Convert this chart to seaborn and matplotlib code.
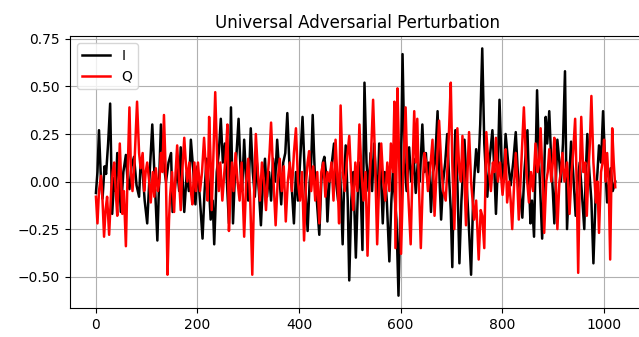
import numpy as np
import pandas as pd
import matplotlib
matplotlib.use("Agg")
import matplotlib.pyplot as plt
import seaborn as sns

# In-phase component: (sample index, amplitude)
i_idx = [0, 3, 6, 10, 13, 17, 20, 24, 28, 32, 36, 39, 42, 46, 49, 54, 59, 62, 66, 70,
         75, 80, 85, 88, 92, 96, 101, 106, 111, 116, 121, 125, 128, 133, 138, 143, 148, 151, 156, 160,
         164, 167, 171, 174, 179, 183, 187, 192, 196, 200, 205, 210, 214, 218, 222, 226, 230, 233, 238, 242,
         246, 250, 254, 258, 262, 266, 270, 274, 277, 281, 285, 288, 292, 296, 300, 305, 309, 313, 317, 321,
         325, 329, 333, 337, 341, 345, 349, 353, 357, 361, 365, 369, 373, 377, 381, 385, 390, 394, 398, 402,
         407, 412, 417, 421, 424, 427, 431, 435, 440, 444, 447, 450, 453, 456, 460, 464, 469, 473, 477, 481,
         486, 489, 492, 496, 499, 503, 507, 512, 516, 520, 525, 529, 533, 537, 541, 544, 548, 552, 555, 558,
         562, 565, 569, 573, 578, 582, 585, 588, 592, 596, 600, 604, 608, 612, 617, 621, 626, 630, 634, 638,
         643, 647, 650, 653, 656, 660, 664, 668, 673, 677, 680, 684, 688, 692, 696, 699, 702, 705, 708, 712,
         716, 720, 723, 726, 730, 734, 739, 743, 746, 749, 753, 757, 761, 765, 768, 771, 775, 781, 785, 788,
         792, 795, 799, 803, 807, 812, 817, 822, 827, 831, 835, 840, 844, 850, 853, 856, 859, 863, 866, 869,
         873, 876, 879, 883, 886, 889, 893, 897, 900, 903, 906, 909, 913, 916, 920, 924, 928, 932, 936, 940,
         945, 949, 953, 957, 962, 965, 968, 972, 976, 980, 984, 988, 991, 995, 999, 1003, 1007, 1011, 1014, 1018,
         1023]
i_val = [-0.06, 0.05, 0.27, 0.00, -0.09, 0.08, 0.04, 0.20, 0.41, -0.17, 0.02, -0.05, 0.15, 0.00, -0.16, 0.05, 0.14, 0.02, -0.04, 0.08,
         0.13, -0.02, -0.08, 0.10, 0.05, -0.10, -0.22, 0.05, 0.30, 0.00, -0.31, 0.05, 0.30, 0.10, 0.00, 0.10, 0.15, -0.16, -0.02, 0.07,
         -0.05, 0.18, 0.00, -0.16, 0.05, -0.05, 0.22, 0.05, -0.12, 0.08, -0.10, -0.30, -0.05, 0.12, 0.00, -0.20, -0.10, -0.33, 0.05, 0.15,
         0.33, 0.10, 0.20, 0.00, -0.22, 0.39, -0.22, 0.05, 0.15, 0.33, 0.05, -0.05, 0.22, 0.00, -0.10, 0.28, 0.05, -0.08, 0.10, -0.05,
         -0.23, 0.00, 0.12, -0.08, 0.05, -0.10, 0.12, 0.00, 0.22, 0.05, -0.12, 0.10, 0.15, 0.36, 0.10, 0.00, -0.22, 0.05, -0.10, 0.10,
         0.34, 0.00, -0.26, 0.00, 0.10, 0.35, 0.05, -0.10, -0.28, 0.00, 0.10, 0.13, 0.05, -0.21, 0.00, 0.08, 0.20, 0.00, -0.10, 0.05,
         -0.33, 0.00, 0.19, -0.10, -0.52, -0.10, 0.05, -0.40, -0.05, 0.10, -0.36, 0.52, 0.10, -0.05, 0.15, -0.05, 0.20, 0.00, -0.10, 0.20,
         0.00, -0.22, 0.05, -0.10, -0.42, -0.10, 0.05, -0.06, -0.20, -0.60, -0.10, 0.67, 0.10, -0.05, 0.18, 0.00, 0.12, -0.06, 0.10, 0.00,
         0.30, 0.05, 0.15, 0.00, 0.10, -0.16, 0.05, 0.10, 0.37, 0.00, -0.20, 0.00, 0.10, 0.25, 0.00, -0.15, -0.45, 0.00, 0.27, 0.00,
         -0.43, -0.10, 0.05, 0.22, 0.00, -0.20, -0.49, -0.10, 0.05, 0.17, 0.05, 0.30, 0.70, 0.20, 0.05, -0.08, 0.10, 0.27, 0.05, -0.17,
         0.10, 0.43, 0.10, 0.00, 0.25, 0.10, -0.02, 0.10, 0.26, 0.05, -0.05, -0.19, 0.05, 0.27, 0.00, -0.22, -0.10, -0.29, 0.10, 0.48,
         0.10, -0.10, -0.30, 0.05, 0.34, 0.20, 0.37, 0.10, -0.05, -0.22, 0.00, 0.22, 0.10, 0.00, 0.20, 0.58, -0.25, 0.00, 0.21, 0.05,
         -0.18, 0.00, 0.10, -0.05, -0.25, 0.05, 0.25, 0.05, -0.10, -0.43, -0.10, 0.05, 0.19, 0.10, 0.37, 0.10, -0.11, 0.00, 0.07, -0.05,
         0.00]

# Quadrature component: (sample index, amplitude)
q_idx = [0, 3, 6, 10, 13, 16, 19, 22, 26, 30, 33, 36, 39, 42, 47, 52, 55, 59, 62, 66,
         69, 72, 76, 81, 85, 88, 92, 95, 98, 101, 105, 108, 112, 115, 118, 122, 125, 128, 131, 134,
         138, 141, 144, 146, 150, 154, 157, 160, 164, 167, 170, 174, 177, 180, 184, 187, 190, 194, 197, 201,
         205, 209, 213, 217, 220, 223, 226, 228, 231, 235, 239, 242, 245, 249, 253, 256, 259, 262, 265, 268,
         271, 275, 279, 283, 287, 292, 296, 300, 304, 308, 312, 315, 319, 323, 327, 331, 335, 339, 342, 345,
         349, 354, 358, 362, 366, 370, 374, 378, 382, 386, 390, 394, 398, 402, 406, 410, 414, 417, 420, 424,
         428, 432, 436, 440, 444, 448, 452, 456, 460, 464, 468, 472, 476, 479, 482, 486, 490, 494, 499, 503,
         507, 511, 515, 519, 523, 527, 531, 535, 539, 542, 546, 550, 554, 558, 562, 566, 570, 574, 578, 581,
         585, 588, 590, 594, 597, 601, 606, 610, 614, 620, 624, 627, 630, 633, 636, 640, 644, 647, 650, 654,
         658, 663, 667, 671, 676, 680, 684, 689, 693, 696, 699, 702, 706, 709, 712, 716, 719, 722, 726, 729,
         732, 735, 739, 742, 745, 749, 754, 758, 761, 765, 769, 773, 778, 782, 785, 788, 792, 796, 801, 805,
         807, 810, 814, 817, 820, 824, 827, 830, 833, 838, 843, 848, 853, 857, 861, 866, 870, 873, 876, 880,
         883, 887, 890, 893, 897, 900, 903, 906, 909, 913, 916, 919, 923, 928, 933, 937, 940, 944, 947, 950,
         953, 956, 960, 964, 967, 970, 973, 976, 980, 985, 988, 991, 995, 998, 1001, 1004, 1007, 1010, 1013, 1017,
         1020, 1023]
q_val = [-0.08, -0.22, -0.05, 0.03, -0.10, -0.29, -0.15, -0.08, -0.28, -0.05, 0.05, 0.10, -0.05, -0.18, 0.20, -0.17, -0.05, -0.34, 0.00, 0.39,
         0.05, -0.05, 0.10, 0.42, 0.15, 0.07, 0.15, -0.05, 0.05, 0.10, 0.00, -0.11, 0.05, -0.08, 0.07, -0.05, 0.00, 0.15, 0.05, 0.35,
         0.00, -0.49, -0.20, -0.08, 0.05, -0.16, 0.05, 0.19, 0.00, -0.15, 0.05, 0.23, 0.10, 0.00, 0.10, -0.05, -0.12, 0.10, -0.05, 0.10,
         -0.05, 0.05, 0.23, 0.05, -0.10, 0.34, 0.10, -0.15, 0.10, 0.47, 0.10, -0.05, 0.10, -0.10, 0.05, 0.15, 0.30, -0.26, -0.05, 0.10,
         -0.05, 0.15, 0.00, -0.10, 0.10, -0.29, 0.00, 0.12, -0.10, -0.49, 0.00, 0.25, 0.05, -0.10, 0.10, 0.00, -0.15, 0.05, 0.15, 0.31,
         0.05, -0.23, 0.00, 0.12, -0.05, 0.08, -0.21, 0.00, 0.10, -0.05, 0.15, 0.28, 0.00, -0.10, 0.05, -0.31, 0.00, 0.10, 0.16, -0.05,
         0.08, -0.10, 0.05, -0.22, 0.05, 0.10, -0.08, 0.05, 0.00, 0.10, -0.10, 0.22, 0.00, -0.22, 0.40, 0.05, -0.05, 0.10, 0.24, 0.00,
         -0.15, 0.10, -0.05, 0.30, 0.05, -0.10, 0.05, -0.39, 0.00, 0.15, 0.43, 0.10, -0.33, 0.00, 0.20, 0.00, -0.10, 0.10, -0.05, 0.20,
         0.05, 0.42, -0.35, 0.49, 0.15, -0.38, 0.10, 0.39, 0.00, -0.33, 0.10, 0.37, 0.10, 0.33, 0.00, -0.35, 0.00, 0.15, 0.11, -0.05,
         0.05, 0.22, -0.18, 0.05, 0.32, 0.10, -0.05, -0.10, 0.10, 0.30, 0.52, 0.10, -0.25, 0.05, 0.28, 0.05, 0.00, 0.24, 0.00, -0.23,
         0.05, 0.26, 0.00, -0.10, -0.20, -0.10, -0.41, -0.15, -0.18, -0.35, 0.26, 0.10, -0.05, 0.10, 0.05, 0.23, 0.00, 0.10, -0.07, 0.05,
         0.17, -0.11, 0.00, -0.10, -0.25, 0.00, 0.15, 0.00, -0.20, 0.10, 0.39, 0.05, -0.11, 0.05, -0.05, 0.20, 0.05, 0.10, 0.28, 0.00,
         -0.27, 0.00, 0.05, 0.17, 0.00, 0.10, 0.23, 0.00, -0.25, 0.00, 0.05, 0.15, 0.00, 0.10, -0.17, 0.05, 0.15, 0.33, 0.00, -0.48,
         0.00, 0.34, 0.05, 0.10, -0.18, 0.05, 0.20, 0.45, 0.10, -0.11, 0.00, -0.27, 0.05, 0.10, 0.22, 0.00, 0.15, 0.00, -0.41, 0.28,
         0.10, -0.03]

series_names = ["I", "Q"]
series_colors = ["black", "red"]

frames = [
    pd.DataFrame({"sample": i_idx, "value": i_val, "component": series_names[0]}),
    pd.DataFrame({"sample": q_idx, "value": q_val, "component": series_names[1]}),
]

fig = plt.figure(figsize=(6.39, 3.37), dpi=100)
# the axes box runs slightly past the right edge of the canvas
ax = fig.add_axes([0.1095, 0.086, 0.9002, 0.807])

for frame, color in zip(frames, series_colors):
    sns.lineplot(data=frame, x="sample", y="value", color=color, linewidth=1.8,
                 estimator=None, label=frame["component"].iloc[0], ax=ax)

ax.set_xlim(-51.15, 1082)
ax.spines["right"].set_visible(False)
ax.set_title("Universal Adversarial Perturbation", fontsize=12)
ax.set_xlabel("")
ax.set_ylabel("")
ax.set_xticks([0, 200, 400, 600, 800, 1000])
ax.set_yticks([-0.5, -0.25, 0.0, 0.25, 0.5, 0.75])
ax.grid(True, color="#b0b0b0", linewidth=0.8)
ax.set_axisbelow(True)
ax.legend(loc="upper left")

fig.savefig("out.png", dpi=100)
